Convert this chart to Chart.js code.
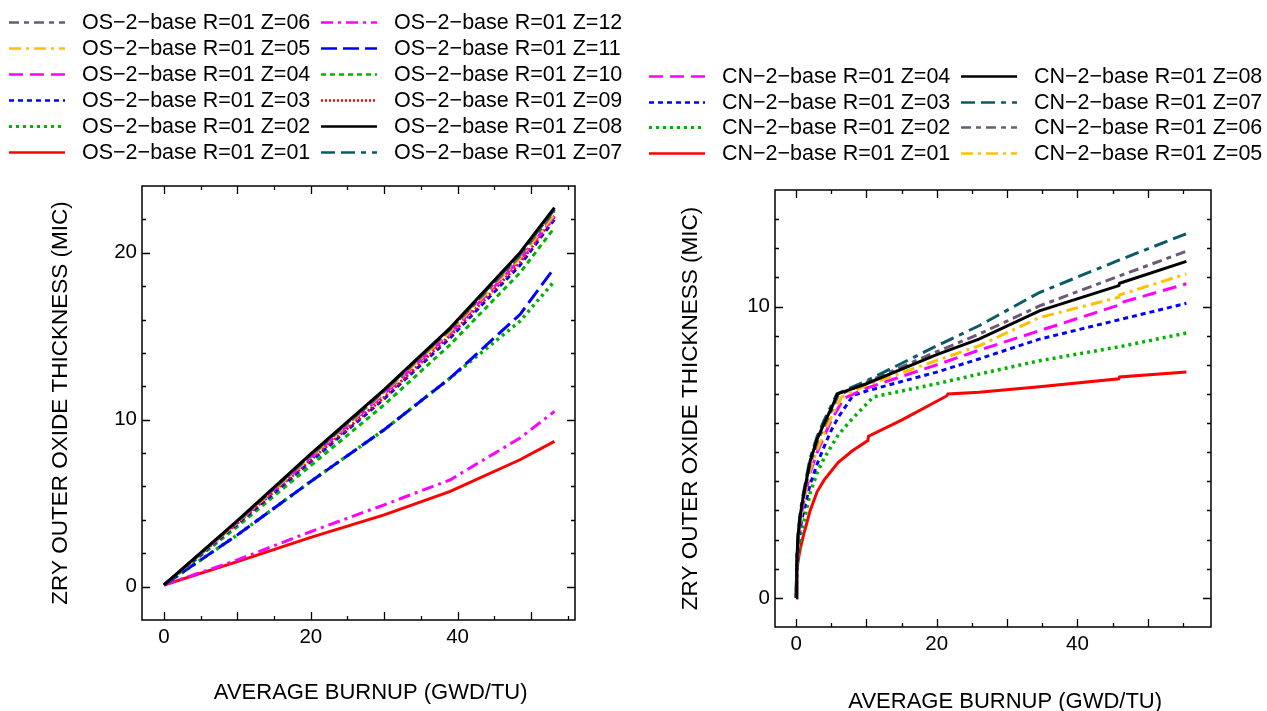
<!DOCTYPE html>
<html>
<head>
<meta charset="utf-8">
<script src="https://cdn.jsdelivr.net/npm/chart.js@4.4.1/dist/chart.umd.min.js"></script>
<style>
  body { margin: 0; background: #fff; width: 1267px; height: 711px; overflow: hidden; position: relative; }
  canvas { position: absolute; top: 0; }
  #osChart { left: 0; }
  #cnChart { left: 640px; }
</style>
</head>
<body>
<canvas id="osChart" width="640" height="711"></canvas>
<canvas id="cnChart" width="627" height="720"></canvas>
<script>
const MINUS = "\u2212";

// OS-2-base: all zones share the same burnup steps
const osBurnup = [0, 10, 20, 30, 39, 48.5, 53.2];
const osZ01 = [0.1, 1.5, 2.95, 4.3, 5.7, 7.6, 8.7];
const osZ02 = [0.1, 3.1, 6.3, 9.4, 12.5, 15.9, 18.3];
const osZ03 = [0.1, 3.75, 7.5, 11.25, 14.9, 19.25, 22.0];
const osZ04 = [0.1, 3.85, 7.75, 11.55, 15.2, 19.6, 22.2];
const osZ05 = [0.1, 3.85, 7.8, 11.65, 15.3, 19.7, 22.3];
const osZ06 = [0.1, 3.9, 7.85, 11.7, 15.4, 19.8, 22.5];
const osZ07 = [0.1, 3.9, 7.9, 11.75, 15.45, 19.9, 22.6];
const osZ08 = [0.1, 3.95, 7.95, 11.8, 15.5, 20.0, 22.7];
const osZ09 = [0.1, 3.8, 7.6, 11.35, 15.05, 19.4, 22.15];
const osZ10 = [0.1, 3.6, 7.25, 10.9, 14.5, 18.8, 21.5];
const osZ11 = [0.1, 3.1, 6.3, 9.4, 12.5, 16.3, 19.1];
const osZ12 = [0.1, 1.6, 3.3, 4.9, 6.4, 8.9, 10.5];

// CN-2-base: each zone has its own burnup points
const cnZ01Burnup = [0, 0.1, 0.3, 0.6, 1, 2, 3, 4, 6, 8, 10.2, 10.3, 15, 21.4, 21.6, 26, 34.6, 45.9, 46, 55.5];
const cnZ01 = [0, 0.9, 1.3, 1.7, 2.1, 3.0, 3.65, 4.05, 4.65, 5.05, 5.4, 5.55, 6.1, 6.93, 7.0, 7.06, 7.25, 7.52, 7.58, 7.75];
const cnZ02Burnup = [0, 0.1, 0.3, 0.6, 1, 2, 3, 4, 6, 8, 11, 20, 26, 34.6, 46, 55.5];
const cnZ02 = [0, 0.85, 1.5, 2.0, 2.5, 3.6, 4.3, 4.8, 5.6, 6.15, 6.9, 7.35, 7.68, 8.14, 8.62, 9.09];
const cnZ03Burnup = [0, 0.1, 0.3, 0.6, 1, 2, 3, 4, 5, 6, 8.1, 10, 20, 26, 34.6, 46, 55.5];
const cnZ03 = [0, 1.0, 1.8, 2.4, 2.9, 3.9, 4.6, 5.2, 5.75, 6.2, 6.95, 7.1, 7.75, 8.2, 8.88, 9.55, 10.11];
const cnZ04Burnup = [0, 0.1, 0.3, 0.6, 1, 2, 3, 4, 5, 6.8, 10, 20, 26, 34.6, 45.9, 46, 55.5];
const cnZ04 = [0, 1.15, 2.0, 2.65, 3.2, 4.3, 5.0, 5.55, 6.1, 6.85, 7.2, 8.0, 8.5, 9.17, 10.05, 10.12, 10.78];
const cnZ05Burnup = [0, 0.1, 0.3, 0.6, 1, 2, 3, 4, 5, 6.5, 10, 20, 26, 34.6, 45.9, 46, 55.5];
const cnZ05 = [0, 1.2, 2.05, 2.7, 3.25, 4.4, 5.1, 5.65, 6.2, 6.9, 7.3, 8.15, 8.65, 9.62, 10.32, 10.4, 11.12];
const cnZ06Burnup = [0, 0.1, 0.3, 0.6, 1, 2, 3, 4, 5, 6, 10, 20, 26, 34.6, 46, 55.5];
const cnZ06 = [0, 1.3, 2.15, 2.8, 3.4, 4.6, 5.35, 5.9, 6.4, 6.95, 7.4, 8.45, 9.05, 10.02, 11.05, 11.9];
const cnZ07Burnup = [0, 0.1, 0.3, 0.6, 1, 2, 3, 4, 5, 5.8, 10, 20, 26, 34.6, 46, 55.5];
const cnZ07 = [0, 1.4, 2.3, 2.95, 3.55, 4.8, 5.55, 6.1, 6.6, 7.0, 7.45, 8.65, 9.34, 10.48, 11.6, 12.5];
const cnZ08Burnup = [0, 0.1, 0.3, 0.6, 1, 2, 3, 4, 5, 5.9, 10, 20, 26, 34.6, 45.9, 46, 55.5];
const cnZ08 = [0, 1.3, 2.2, 2.85, 3.45, 4.7, 5.45, 6.0, 6.5, 7.0, 7.35, 8.35, 8.88, 9.85, 10.72, 10.8, 11.55];

const osXTicks = [0, 20, 40];
const osYTicks = [0, 10, 20];
const cnXTicks = [0, 20, 40];
const cnYTicks = [0, 10];

const FONT = "'Liberation Sans', Arial, sans-serif";

const lineStyles = {
  "01": { color: "#ff0000", dash: [] },
  "02": { color: "#00b400", dash: [3, 4], width: 3.5 },
  "03": { color: "#0000ff", dash: [5, 4] },
  "04": { color: "#ff00ff", dash: [14, 7] },
  "05": { color: "#ffc000", dash: [12, 5, 3, 5] },
  "06": { color: "#6e5a78", dash: [10, 5, 5, 5] },
  "07": { color: "#0b5a68", dash: [14, 6, 14, 6, 5, 6] },
  "08": { color: "#000000", dash: [] },
  "09": { color: "#ff0000", dash: [2, 2] },
  "10": { color: "#00b400", dash: [5, 4] },
  "11": { color: "#0000ff", dash: [16, 6] },
  "12": { color: "#ff00ff", dash: [12, 5, 3, 5] }
};

function series(prefix, zone, xs, ys, order) {
  const st = lineStyles[zone];
  return {
    label: `${prefix}${MINUS}2${MINUS}base R=01 Z=${zone}`,
    zone,
    data: xs.map((x, i) => ({ x, y: ys[i] })),
    borderColor: st.color,
    backgroundColor: st.color,
    borderDash: st.dash,
    borderWidth: st.width || 3,
    pointRadius: 0,
    fill: false,
    tension: 0,
    order
  };
}

// frame with inward ticks on all four sides
const framePlugin = {
  id: "frame",
  afterDraw(chart, args, o) {
    const { ctx, chartArea: a, scales: { x, y } } = chart;
    ctx.save();
    ctx.strokeStyle = "#000";
    ctx.lineWidth = 1.5;
    ctx.strokeRect(a.left, a.top, a.right - a.left, a.bottom - a.top);
    ctx.lineWidth = 1.3;
    ctx.beginPath();
    for (let v = 0; v < x.max; v += 5) {
      const px = Math.round(x.getPixelForValue(v)) + 0.5;
      const len = v % 10 === 0 ? 8 : 4;
      ctx.moveTo(px, a.bottom); ctx.lineTo(px, a.bottom - len);
      ctx.moveTo(px, a.top); ctx.lineTo(px, a.top + len);
    }
    for (let v = 0; v < y.max; v += o.yMinor) {
      const py = Math.round(y.getPixelForValue(v)) + 0.5;
      const len = v % 10 === 0 ? 8 : 4;
      ctx.moveTo(a.left, py); ctx.lineTo(a.left + len, py);
      ctx.moveTo(a.right, py); ctx.lineTo(a.right - len, py);
    }
    ctx.stroke();
    ctx.restore();
  }
};

const legendCols = [
  { x1: 9, x2: 65, tx: 82 },
  { x1: 321, x2: 377, tx: 394 }
];

const legendPlugin = {
  id: "zoneLegend",
  afterDraw(chart, args, opts) {
    const ctx = chart.ctx;
    ctx.save();
    ctx.font = "21.5px " + FONT;
    ctx.textBaseline = "middle";
    ctx.fillStyle = "#000";
    opts.columns.forEach((zones, c) => {
      const col = legendCols[c];
      zones.forEach((zone, r) => {
        const ds = chart.data.datasets.find(d => d.zone === zone);
        const y = Math.round(opts.top + r * opts.rowGap) + 0.5;
        ctx.strokeStyle = ds.borderColor;
        ctx.lineWidth = ds.borderWidth > 3 ? 3 : 2.5;
        ctx.setLineDash(ds.borderDash);
        ctx.beginPath();
        ctx.moveTo(col.x1, y);
        ctx.lineTo(col.x2, y);
        ctx.stroke();
        ctx.setLineDash([]);
        ctx.fillText(ds.label, col.tx, y + 1);
      });
    });
    ctx.restore();
  }
};

function makeChart(id, datasets, cfg) {
  return new Chart(document.getElementById(id), {
    type: "line",
    data: { datasets },
    options: {
      responsive: false,
      animation: false,
      devicePixelRatio: 1,
      layout: { padding: { top: cfg.top, right: cfg.right, left: 0, bottom: 0 } },
      plugins: {
        legend: { display: false },
        tooltip: { enabled: false },
        frame: { yMinor: cfg.yMinor },
        zoneLegend: cfg.legend
      },
      scales: {
        x: {
          type: "linear",
          min: cfg.xMin,
          max: cfg.xMax,
          grid: { display: false, drawTicks: false },
          border: { display: false },
          ticks: { color: "#000", font: { family: FONT, size: 20.5 }, padding: 5, maxRotation: 0 },
          afterBuildTicks: s => { s.ticks = cfg.xTicks.map(value => ({ value })); },
          afterFit: s => { s.height = cfg.xHeight; },
          title: {
            display: true,
            text: "    AVERAGE BURNUP (GWD/TU)",
            color: "#000",
            font: { family: FONT, size: 22 },
            padding: { top: 0, bottom: 5 }
          }
        },
        y: {
          type: "linear",
          min: cfg.yMin,
          max: cfg.yMax,
          grid: { display: false, drawTicks: false },
          border: { display: false },
          ticks: { color: "#000", font: { family: FONT, size: 20.5 }, padding: 5 },
          afterBuildTicks: s => { s.ticks = cfg.yTicks.map(value => ({ value })); },
          afterFit: s => { s.width = cfg.yWidth; },
          title: {
            display: true,
            text: "ZRY OUTER OXIDE THICKNESS (MIC)",
            color: "#000",
            font: { family: FONT, size: 22.5 },
            padding: { top: cfg.yTitlePad, bottom: 0 }
          }
        }
      }
    },
    plugins: [framePlugin, legendPlugin]
  });
}

const osSets = [
  series("OS", "08", osBurnup, osZ08, 0),
  series("OS", "07", osBurnup, osZ07, 1),
  series("OS", "06", osBurnup, osZ06, 2),
  series("OS", "05", osBurnup, osZ05, 3),
  series("OS", "04", osBurnup, osZ04, 4),
  series("OS", "09", osBurnup, osZ09, 5),
  series("OS", "03", osBurnup, osZ03, 6),
  series("OS", "10", osBurnup, osZ10, 7),
  series("OS", "11", osBurnup, osZ11, 8),
  series("OS", "02", osBurnup, osZ02, 9),
  series("OS", "12", osBurnup, osZ12, 10),
  series("OS", "01", osBurnup, osZ01, 11)
];

const cnSets = [
  series("CN", "08", cnZ08Burnup, cnZ08, 0),
  series("CN", "07", cnZ07Burnup, cnZ07, 1),
  series("CN", "06", cnZ06Burnup, cnZ06, 2),
  series("CN", "05", cnZ05Burnup, cnZ05, 3),
  series("CN", "04", cnZ04Burnup, cnZ04, 4),
  series("CN", "03", cnZ03Burnup, cnZ03, 5),
  series("CN", "02", cnZ02Burnup, cnZ02, 6),
  series("CN", "01", cnZ01Burnup, cnZ01, 7)
];

makeChart("osChart", osSets, {
  top: 186, right: 65, xHeight: 91, yWidth: 142, yTitlePad: 47,
  xMin: -3, xMax: 56, yMin: -2, yMax: 24, yMinor: 2,
  xTicks: osXTicks, yTicks: osYTicks,
  legend: {
    top: 22, rowGap: 26,
    columns: [["06", "05", "04", "03", "02", "01"], ["12", "11", "10", "09", "08", "07"]]
  }
});

makeChart("cnChart", cnSets, {
  top: 190, right: 56, xHeight: 93, yWidth: 135, yTitlePad: 37,
  xMin: -3, xMax: 59, yMin: -1, yMax: 14, yMinor: 1,
  xTicks: cnXTicks, yTicks: cnYTicks,
  legend: {
    top: 76, rowGap: 25.7,
    columns: [["04", "03", "02", "01"], ["08", "07", "06", "05"]]
  }
});
</script>
</body>
</html>
